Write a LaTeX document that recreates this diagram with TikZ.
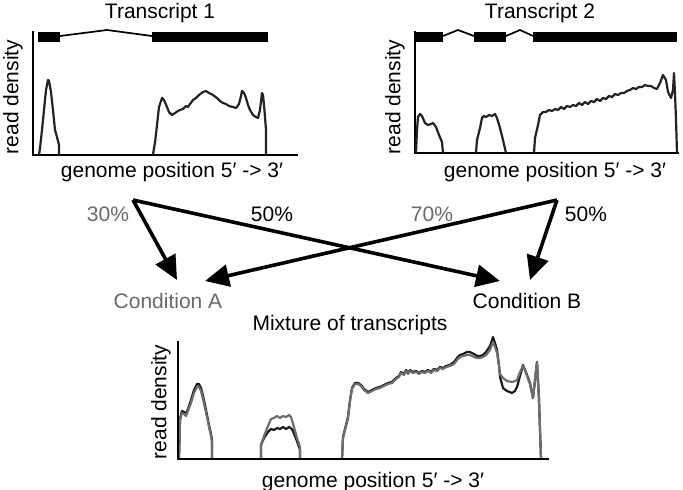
\documentclass[tikz,border=0pt]{standalone}
\usepackage{fontspec}
\setmainfont{Liberation Sans}
\usetikzlibrary{arrows.meta}
\definecolor{txtgray}{RGB}{105,105,105}
\definecolor{curvedark}{RGB}{35,35,35}
\definecolor{curvegray}{RGB}{110,110,110}
\tikzset{
  lbl/.style={font=\fontsize{21}{25}\selectfont, inner sep=0pt, anchor=base},
  ylbl/.style={font=\fontsize{21}{25}\selectfont, inner sep=0pt, rotate=90},
  axis/.style={line width=2.6pt, line cap=rect},
  exon/.style={fill=black},
  intron/.style={line width=1.7pt},
  dens/.style={line width=2.2pt, draw=curvedark, line join=round},
  densblack/.style={line width=2.2pt, draw=black!90, line join=round},
  densgray/.style={line width=2.2pt, draw=curvegray, line join=round},
  flow/.style={line width=3.6pt, -{Triangle[length=24pt,width=22pt]}},
}
\begin{document}
\begin{tikzpicture}[x=1pt,y=-1pt]
\path[use as bounding box] (0,0) rectangle (683,490);

% ---------- Transcript 1 ----------
\node[lbl] (t1) at (160,18) {Transcript 1};
\node[ylbl] (rd1) at (13,97) {read density};
\node[lbl] (gp1) at (172,177) {genome position 5′ -> 3′};
\coordinate (o1) at (33,155);
\coordinate (y1) at (33,32);
\coordinate (x1) at (297,155);
\draw[axis] (y1) -- (o1) -- (x1);
\fill[exon] (38,32) rectangle (60,42);
\fill[exon] (152,32) rectangle (268,42);
\draw[intron] (60,36) -- (107,30) -- (152,36);
\draw[dens] (39,155) -- (40,148) -- (42,130) -- (44,110) -- (46,90) -- (48,80) -- (49,81) -- (51,92) -- (53,110) -- (55,130) -- (57,137) -- (59,145) -- (59,155);
\draw[dens] (153,155) -- (154,148) -- (155,143) -- (157,125) -- (159,107) -- (162,98) -- (164,100) -- (167,107) -- (169,112) -- (172,115) -- (175,113) -- (178,111) -- (180,110) -- (183,109) -- (186,106) -- (188,107) -- (190,104) -- (193,100) -- (196,98) -- (199,95) -- (203,92) -- (206,91) -- (209,93) -- (213,95) -- (217,98) -- (220,101) -- (223,103) -- (226,104) -- (229,106) -- (233,107) -- (236,108) -- (239,104) -- (241,96) -- (242,91) -- (244,93) -- (246,98) -- (248,105) -- (250,110) -- (253,115) -- (256,117) -- (258,118) -- (260,110) -- (262,93) -- (263,95) -- (264,105) -- (265,117) -- (266,130) -- (266,155);

% ---------- Transcript 2 ----------
\node[lbl] (t2) at (540,18) {Transcript 2};
\node[ylbl] (rd2) at (395,97) {read density};
\node[lbl] (gp2) at (555,177) {genome position 5′ -> 3′};
\coordinate (o2) at (415,153);
\coordinate (y2) at (415,32);
\coordinate (x2) at (678,153);
\draw[axis] (y2) -- (o2) -- (x2);
\fill[exon] (415,32) rectangle (443,42);
\fill[exon] (474,32) rectangle (506,42);
\fill[exon] (533,32) rectangle (677,42);
\draw[intron] (443,36) -- (458,30) -- (474,36);
\draw[intron] (506,36) -- (520,30) -- (533,36);
\draw[dens] (416,153) -- (417,130) -- (418,117) -- (420,114) -- (422,116) -- (425,123) -- (428,125) -- (431,124) -- (433,123) -- (436,127) -- (439,135) -- (442,142) -- (443,153);
\draw[dens] (476,153) -- (477,140) -- (480,128) -- (482,118) -- (484,116) -- (486,117) -- (489,115) -- (492,116) -- (495,114) -- (497,118) -- (500,128) -- (503,140) -- (506,153);
\draw[dens] (534,153) -- (535,138) -- (538,125) -- (540,115) -- (543,112) -- (546,112) -- (549,110) -- (552,111) -- (555,109) -- (558,110) -- (561,107) -- (564,109) -- (567,106) -- (570,107) -- (573,105) -- (576,106) -- (579,103) -- (582,105) -- (585,102) -- (588,104) -- (591,101) -- (594,102) -- (597,99) -- (600,101) -- (603,98) -- (606,99) -- (609,96) -- (612,97) -- (615,94) -- (618,95) -- (621,93) -- (624,93) -- (627,91) -- (630,90) -- (633,88) -- (636,89) -- (639,87) -- (642,87) -- (645,85) -- (648,86) -- (651,86) -- (654,88) -- (657,89) -- (660,83) -- (663,75) -- (666,80) -- (668,92) -- (671,98) -- (673,90) -- (674,73) -- (675,93) -- (676,120) -- (677,153);

% ---------- arrows ----------
\coordinate (s1) at (133,200);
\coordinate (s2) at (557,200);
\coordinate (ta1) at (177,280);
\coordinate (ta2) at (205,281);
\coordinate (tb1) at (500,281);
\coordinate (tb2) at (530,280);
\draw[flow] (s1) -- (ta1);
\draw[flow] (s1) -- (tb1);
\draw[flow] (s2) -- (ta2);
\draw[flow] (s2) -- (tb2);
\node[lbl, text=txtgray] (p30) at (108,221) {30\%};
\node[lbl] (p50a) at (272,221) {50\%};
\node[lbl, text=txtgray] (p70) at (432,221) {70\%};
\node[lbl] (p50b) at (586,221) {50\%};
\node[lbl, text=txtgray] (ca) at (168,308) {Condition A};
\node[lbl] (cb) at (527,308) {Condition B};
\node[lbl] (mix) at (350,330) {Mixture of transcripts};

% ---------- Mixture ----------
\node[ylbl] (rd3) at (161,402) {read density};
\node[lbl] (gp3) at (373,487) {genome position 5′ -> 3′};
\coordinate (o3) at (178,459);
\coordinate (y3) at (178,342);
\coordinate (x3) at (548,459);
\draw[densblack] (179,459) -- (180,420) -- (181,414) -- (182,411) -- (184,412) -- (186,414) -- (188,409) -- (191,400) -- (194,390) -- (197,384) -- (199,384) -- (201,388) -- (203,396) -- (205,405) -- (207,415) -- (209,425) -- (211,434) -- (212,440) -- (212,459);
\draw[densgray] (179,459) -- (180,421) -- (181,416) -- (182,413) -- (184,414) -- (186,416) -- (188,411) -- (191,403) -- (194,393) -- (197,387) -- (199,387) -- (201,391) -- (203,399) -- (205,408) -- (207,417) -- (209,427) -- (211,436) -- (212,442) -- (212,459);
\draw[densblack] (261,459) -- (261,445) -- (264,438) -- (268,432) -- (271,429) -- (274,430) -- (277,428) -- (280,429) -- (283,427) -- (286,429) -- (289,427) -- (292,429) -- (295,436) -- (298,444) -- (300,450) -- (300,459);
\draw[densgray] (261,459) -- (261,445) -- (264,436) -- (268,426) -- (271,419) -- (274,418) -- (277,416) -- (280,418) -- (283,416) -- (286,417) -- (289,415) -- (291,417) -- (294,427) -- (297,438) -- (300,447) -- (300,459);
\draw[densblack] (342,459) -- (343,437) -- (346,425) -- (348,417) -- (350,400) -- (352,388) -- (355,383) -- (358,383) -- (361,385) -- (364,389) -- (368,392) -- (372,390) -- (376,388) -- (380,387) -- (384,385) -- (388,383) -- (392,382) -- (396,378) -- (399,376) -- (401,372) -- (404,374) -- (406,370) -- (408,373) -- (410,370) -- (413,372) -- (416,371) -- (419,373) -- (422,371) -- (425,372) -- (428,370) -- (431,372) -- (434,369) -- (437,370) -- (440,367) -- (443,368) -- (446,366) -- (450,365) -- (454,362) -- (457,358) -- (460,355) -- (463,354) -- (467,352) -- (470,352) -- (474,354) -- (477,356) -- (480,356) -- (483,355) -- (486,352) -- (490,346) -- (493,337) -- (495,343) -- (497,350) -- (499,365) -- (500,377) -- (503,388) -- (507,391) -- (512,393) -- (515,391) -- (517,387) -- (520,376) -- (523,365) -- (525,370) -- (527,375) -- (530,383) -- (533,398) -- (535,380) -- (537,362) -- (539,400) -- (541,459);
\draw[densgray] (342,459) -- (343,438) -- (346,426) -- (348,418) -- (350,401) -- (352,389) -- (355,384) -- (358,384) -- (361,386) -- (364,390) -- (368,393) -- (372,391) -- (376,389) -- (380,388) -- (384,386) -- (388,384) -- (392,383) -- (396,379) -- (399,377) -- (401,373) -- (404,375) -- (406,371) -- (408,374) -- (410,371) -- (413,373) -- (416,372) -- (419,374) -- (422,372) -- (425,373) -- (428,371) -- (431,373) -- (434,370) -- (437,371) -- (440,368) -- (443,369) -- (446,367) -- (450,366) -- (454,364) -- (457,360) -- (460,357) -- (463,356) -- (467,355) -- (470,355) -- (474,357) -- (477,358) -- (480,358) -- (483,357) -- (486,355) -- (490,350) -- (493,342) -- (495,347) -- (497,353) -- (499,366) -- (500,374) -- (503,378) -- (507,381) -- (512,382) -- (515,381) -- (517,380) -- (520,372) -- (523,366) -- (525,370) -- (527,376) -- (530,384) -- (533,398) -- (535,380) -- (537,362) -- (539,400) -- (541,459);
\draw[axis] (y3) -- (o3) -- (x3);
\end{tikzpicture}
\end{document}
